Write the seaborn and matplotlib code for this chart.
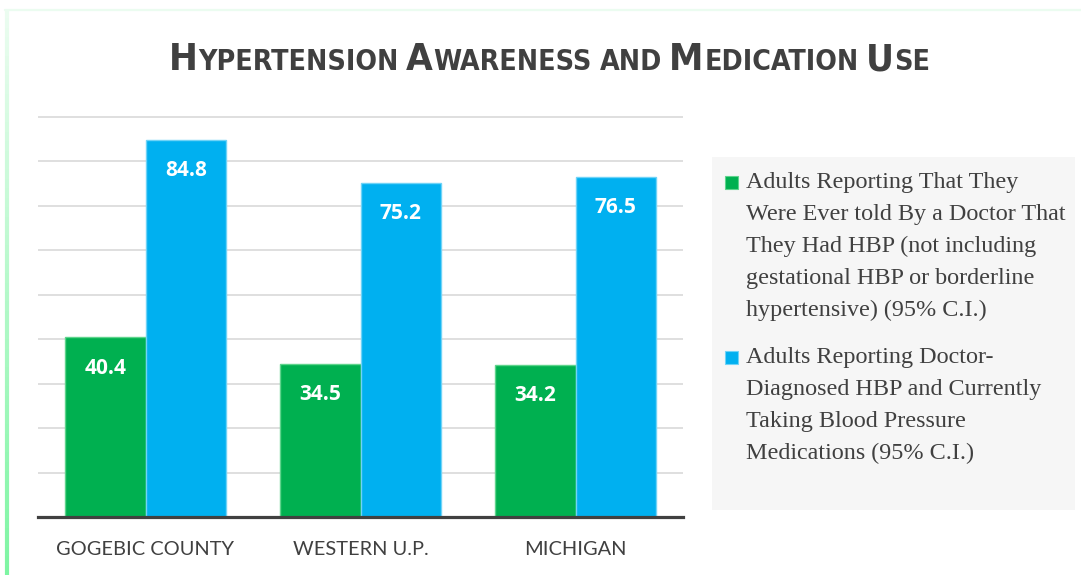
import matplotlib
matplotlib.use("Agg")
import matplotlib.pyplot as plt
import seaborn as sns
import pandas as pd
import numpy as np
from matplotlib.patches import Rectangle
from matplotlib.lines import Line2D
from matplotlib.collections import LineCollection
from matplotlib.colors import to_rgb

# ---------------- data ----------------
categories = ["GOGEBIC COUNTY", "WESTERN U.P.", "MICHIGAN"]
series_names = [
    "Adults Reporting That They Were Ever told By a Doctor That They Had HBP "
    "(not including gestational HBP or borderline hypertensive) (95% C.I.)",
    "Adults Reporting Doctor-Diagnosed HBP and Currently Taking Blood Pressure "
    "Medications (95% C.I.)",
]
ever_told_hbp = [40.4, 34.5, 34.2]
taking_medication = [84.8, 75.2, 76.5]
legend_lines = [
    ["Adults Reporting That They", "Were Ever told By a Doctor That",
     "They Had HBP (not including", "gestational HBP or borderline",
     "hypertensive) (95% C.I.)"],
    ["Adults Reporting Doctor-", "Diagnosed HBP and Currently",
     "Taking Blood Pressure", "Medications (95% C.I.)"],
]
title_words = ["HYPERTENSION", "AWARENESS", "AND", "MEDICATION", "USE"]
small_words = ["AND"]
bar_colors = ["#00B050", "#00B0F0"]
edge_colors = ["#5ED48C", "#6FD3F7"]

df = pd.DataFrame({
    "region": categories * 2,
    "series": [series_names[0]] * 3 + [series_names[1]] * 3,
    "value": ever_told_hbp + taking_medication,
})

# ---------------- figure ----------------
W, H = 1081, 575
sns.set_theme(style="white")
plt.rcParams["font.family"] = ["DejaVu Sans"]
fig = plt.figure(figsize=(W / 100, H / 100), dpi=100)
fig.patch.set_facecolor("white")

px_per_unit = 400 / 90.0
ax_top_px, ax_bot_px = 112, 517
ax = fig.add_axes([38 / W, 1 - ax_bot_px / H, (683 - 38) / W, (ax_bot_px - ax_top_px) / H])

sns.barplot(data=df, x="region", y="value", hue="series", order=categories,
            hue_order=series_names, palette=bar_colors, saturation=1,
            width=0.75, linewidth=1, ax=ax, legend=False)
for cont, ec in zip(ax.containers, edge_colors):
    for p in cont:
        p.set_edgecolor(ec)
        p.set_zorder(3)

ax.set_xlim(-0.5, 2.5)
ax.set_ylim(0, (ax_bot_px - ax_top_px) / px_per_unit)
ax.set_yticks(np.arange(10, 100, 10))
ax.yaxis.grid(True, color="#d9d9d9", linewidth=1.2)
ax.set_axisbelow(True)
ax.tick_params(axis="y", length=0, labelleft=False)
ax.tick_params(axis="x", length=0, pad=17, labelsize=14.4, labelcolor="#404040")
for lbl in ax.get_xticklabels():
    lbl.set_fontfamily(["Lato", "DejaVu Sans"])
ax.set_xlabel("")
ax.set_ylabel("")
for s in ["top", "left", "right"]:
    ax.spines[s].set_visible(False)
ax.spines["bottom"].set_color("#404040")
ax.spines["bottom"].set_linewidth(2.3)
ax.spines["bottom"].set_zorder(4)
ax.patch.set_alpha(0)

# data labels
for cont in ax.containers:
    for bar in cont:
        ax.annotate(f"{bar.get_height():.1f}",
                    (bar.get_x() + bar.get_width() / 2, bar.get_height()),
                    xytext=(0, -26), textcoords="offset points",
                    ha="center", va="baseline", color="white",
                    fontsize=15, fontweight="bold",
                    fontfamily=["Open Sans", "DejaVu Sans"], zorder=5)

# ---------------- title in small caps ----------------
renderer = fig.canvas.get_renderer()
big, small = 27.7, 20.4
title_font = dict(fontfamily=["DejaVu Sans"],
                  fontweight="bold", fontstretch="condensed", color="#404040")
pieces = []
for i, w in enumerate(title_words):
    if i > 0:
        pieces.append(None)
    if w in small_words:
        pieces.append((w, small))
    else:
        pieces.append((w[0], big))
        pieces.append((w[1:], small))
space_px = 7
baseline_y = 1 - 70.5 / H
texts = []
x = 0.0
for pc in pieces:
    if pc is None:
        x += space_px
        continue
    t = fig.text(0, baseline_y, pc[0], fontsize=pc[1], va="baseline", ha="left", **title_font)
    wpx = t.get_window_extent(renderer).width
    texts.append((t, x))
    x += wpx + 0.5
total = x
start = 550 - total / 2
for t, off in texts:
    t.set_x((start + off) / W)

# ---------------- legend (manual, first-line markers) ----------------
fig.add_artist(Rectangle((712 / W, 1 - 510 / H), (1075 - 712) / W, (510 - 157) / H,
                         transform=fig.transFigure, facecolor="#f6f6f6",
                         edgecolor="none", zorder=0))
first_baselines = [188, 363]
line_step = 32
for lines, base, col, ec in zip(legend_lines, first_baselines, bar_colors, edge_colors):
    fig.add_artist(Rectangle((725 / W, 1 - (base + 0.5) / H), 13 / W, 13 / H,
                             transform=fig.transFigure, facecolor=col,
                             edgecolor=ec, linewidth=0.8, zorder=2))
    for k, line in enumerate(lines):
        fig.text(746 / W, 1 - (base + k * line_step) / H, line, fontsize=17.4,
                 fontfamily=["Liberation Serif", "DejaVu Serif"], color="#404040",
                 va="baseline", ha="left")

# ---------------- decorative border ----------------
fig.add_artist(Line2D([5 / W, 1], [1 - 10 / H] * 2, transform=fig.transFigure,
                      color="#ebfcf0", linewidth=1.6))
n = 60
ys = np.linspace(9, 575, n + 1)
c0, c1 = np.array(to_rgb("#ebfcf0")), np.array(to_rgb("#7ef5a3"))
segs = [[(7 / W, 1 - ys[i] / H), (7 / W, 1 - ys[i + 1] / H)] for i in range(n)]
cols = [c0 + (c1 - c0) * (i / (n - 1)) for i in range(n)]
fig.add_artist(LineCollection(segs, colors=cols, linewidths=3,
                              transform=fig.transFigure))

fig.savefig("out.png", dpi=100)
